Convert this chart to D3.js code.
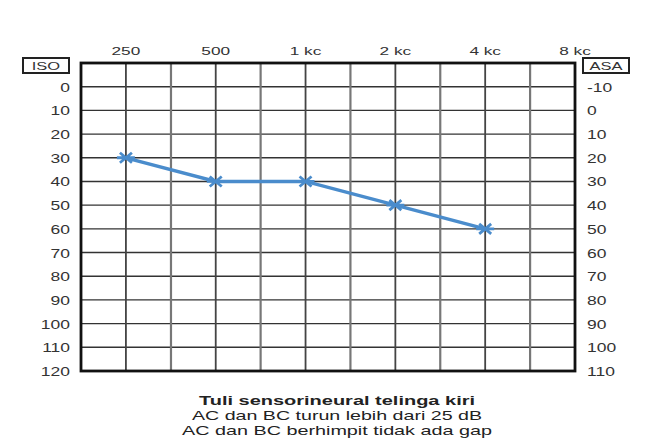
<!DOCTYPE html>
<html><head><meta charset="utf-8">
<script src="https://cdn.jsdelivr.net/npm/d3@7"></script>
<style>body{margin:0;background:#fff}svg{display:block}text{font-family:"Liberation Sans",Arial,sans-serif}</style>
</head><body><svg id="c" width="645" height="447"></svg>
<script>
const freqs = [250, 500, 1000, 2000, 4000, 8000];
const freqLabels = ["250", "500", "1 kc", "2 kc", "4 kc", "8 kc"];
const halfOctaves = [354, 707, 1414, 2828, 5657];
const thresholds = [30, 40, 40, 50, 60];
const isoTicks = [0, 10, 20, 30, 40, 50, 60, 70, 80, 90, 100, 110, 120];
const asaTicks = [-10, 0, 10, 20, 30, 40, 50, 60, 70, 80, 90, 100, 110];
const gridLevels = [0, 10, 20, 30, 40, 50, 60, 70, 80, 90, 100, 110];
const captions = ["Tuli sensorineural telinga kiri", "AC dan BC turun lebih dari 25 dB", "AC dan BC berhimpit tidak ada gap"];
const captionWidths = [276, 290, 310];

const svg = d3.select("#c");
const x = d3.scaleLog().base(2).domain([250 / Math.SQRT2, 8000]).range([81, 575]);
const y = d3.scaleLinear().domain([-10, 120]).range([63, 371]);

// grid
const g = svg.append("g");
g.selectAll("line.h").data(gridLevels).join("line")
  .attr("x1", x.range()[0]).attr("x2", x.range()[1])
  .attr("y1", d => y(d)).attr("y2", d => y(d))
  .attr("stroke", "#333").attr("stroke-width", 1.4);
g.selectAll("line.v").data(freqs.slice(0, 5)).join("line")
  .attr("x1", d => x(d)).attr("x2", d => x(d))
  .attr("y1", y.range()[0]).attr("y2", y.range()[1])
  .attr("stroke", "#444").attr("stroke-width", 1.8);
g.selectAll("line.hv").data(halfOctaves).join("line")
  .attr("x1", d => x(d)).attr("x2", d => x(d))
  .attr("y1", y.range()[0]).attr("y2", y.range()[1])
  .attr("stroke", "#777").attr("stroke-width", 2.2);
svg.append("rect").attr("x", 81).attr("y", 63).attr("width", 494).attr("height", 308)
  .attr("fill", "none").attr("stroke", "#111").attr("stroke-width", 2.8);

// wide label helper
function wide(sel, sx) {
  sel.attr("transform", function() {
    const t = d3.select(this);
    return `translate(${t.attr("data-x")},${t.attr("data-y")}) scale(${sx},1)`;
  });
}

// axes labels
svg.selectAll("text.f").data(freqs).join("text").attr("class", "f")
  .attr("data-x", d => x(d)).attr("data-y", 55).attr("text-anchor", "middle")
  .attr("font-size", 11.5).attr("fill", "#333").text((d, i) => freqLabels[i]).call(wide, 1.5);
svg.selectAll("text.l").data(isoTicks).join("text").attr("class", "l")
  .attr("data-x", 70).attr("data-y", d => y(d) + 5).attr("text-anchor", "end")
  .attr("font-size", 12.5).attr("fill", "#333").text(d => d).call(wide, 1.4);
svg.selectAll("text.r").data(asaTicks).join("text").attr("class", "r")
  .attr("data-x", 587).attr("data-y", d => y(d + 10) + 5).attr("text-anchor", "start")
  .attr("font-size", 12.5).attr("fill", "#333").text(d => d).call(wide, 1.4);

// boxes
[[23, "ISO"], [583, "ASA"]].forEach(([bx, t]) => {
  svg.append("rect").attr("x", bx).attr("y", 58).attr("width", 46).attr("height", 15)
    .attr("fill", "#fff").attr("stroke", "#222").attr("stroke-width", 2);
  svg.append("text").attr("data-x", bx + 23).attr("data-y", 70).attr("text-anchor", "middle")
    .attr("font-size", 11).attr("fill", "#333").text(t).call(wide, 1.5);
});

// data line
const pts = thresholds.map((v, i) => [freqs[i], v]);
svg.append("path").datum(pts)
  .attr("d", d3.line().x(d => x(d[0])).y(d => y(d[1])))
  .attr("fill", "none").attr("stroke", "#4a8ccc").attr("stroke-width", 3.4);
const star = "M-9,0L9,0M-6,-5L6,5M-6,5L6,-5";
svg.selectAll("path.m").data(pts).join("path")
  .attr("transform", d => `translate(${x(d[0])},${y(d[1])})`)
  .attr("d", star).attr("stroke", "#4a8ccc").attr("stroke-width", 2.8).attr("fill", "none");

// captions
svg.selectAll("text.cap").data(captions).join("text")
  .attr("x", 337).attr("y", (d, i) => 405 + i * 15).attr("text-anchor", "middle")
  .attr("font-size", 13).attr("fill", "#222").attr("font-weight", (d, i) => i === 0 ? "bold" : "normal")
  .attr("textLength", (d, i) => captionWidths[i]).attr("lengthAdjust", "spacingAndGlyphs")
  .text(d => d);
</script></body></html>
